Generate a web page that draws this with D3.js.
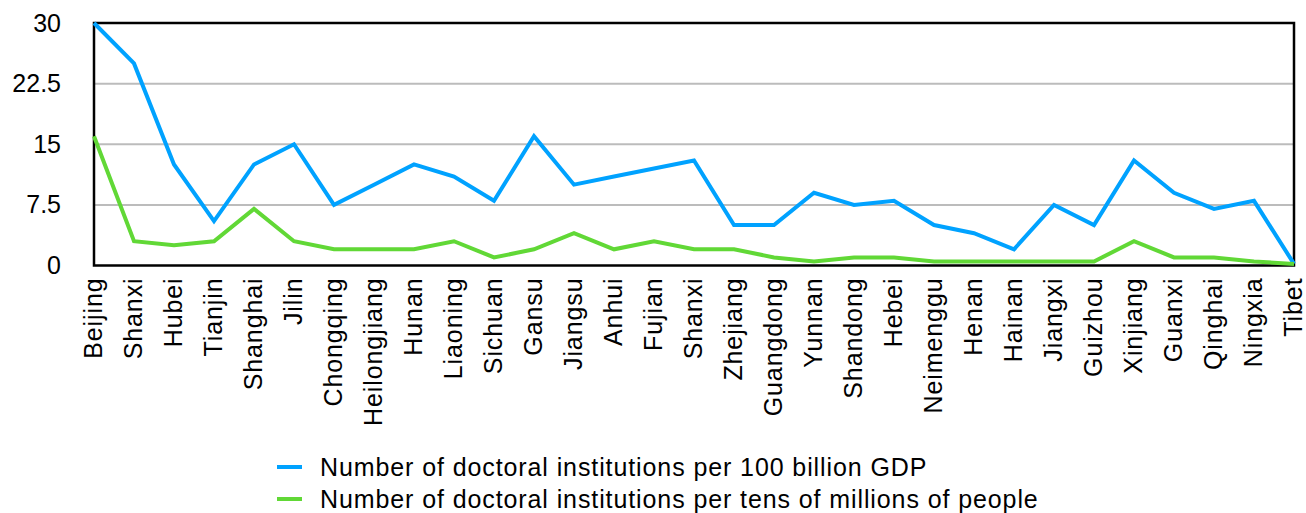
<!DOCTYPE html>
<html>
<head>
<meta charset="utf-8">
<script src="https://cdn.jsdelivr.net/npm/d3@7"></script>
<style>
  html, body { margin: 0; padding: 0; background: #fff; }
  svg { display: block; font-family: "Liberation Sans", Arial, sans-serif; }
</style>
</head>
<body>
<svg id="chart" width="1306" height="513"></svg>
<script>
// Provinces in display order (Shanxi appears twice in the source table)
const provinces = ["Beijing", "Shanxi", "Hubei", "Tianjin", "Shanghai", "Jilin", "Chongqing",
  "Heilongjiang", "Hunan", "Liaoning", "Sichuan", "Gansu", "Jiangsu", "Anhui", "Fujian",
  "Shanxi", "Zhejiang", "Guangdong", "Yunnan", "Shandong", "Hebei", "Neimenggu", "Henan",
  "Hainan", "Jiangxi", "Guizhou", "Xinjiang", "Guanxi", "Qinghai", "Ningxia", "Tibet"];

// Doctoral institutions per 100 billion GDP
const perGdp = [30, 25, 12.5, 5.5, 12.5, 15, 7.5, 10, 12.5, 11, 8, 16, 10, 11, 12, 13,
  5, 5, 9, 7.5, 8, 5, 4, 2, 7.5, 5, 13, 9, 7, 8, 0.2];

// Doctoral institutions per tens of millions of people
const perPop = [16, 3, 2.5, 3, 7, 3, 2, 2, 2, 3, 1, 2, 4, 2, 3, 2,
  2, 1, 0.5, 1, 1, 0.5, 0.5, 0.5, 0.5, 0.5, 3, 1, 1, 0.5, 0.2];

const yTicks = [0, 7.5, 15, 22.5, 30];

const seriesNames = ["Number of doctoral institutions per 100 billion GDP",
  "Number of doctoral institutions per tens of millions of people"];
const seriesColors = ["#00A2FF", "#61D836"];

const svg = d3.select("#chart");
const plot = { left: 94, right: 1294, top: 23, bottom: 265.5 };
const fontSize = 25;
const tracking = 0.9;

const x = d3.scalePoint().domain(d3.range(provinces.length)).range([plot.left, plot.right]);
const y = d3.scaleLinear().domain([0, 30]).range([plot.bottom, plot.top]);

// Horizontal gridlines
svg.append("g")
  .selectAll("line")
  .data(yTicks.filter(t => t > 0 && t < 30))
  .join("line")
  .attr("x1", plot.left).attr("x2", plot.right)
  .attr("y1", d => y(d)).attr("y2", d => y(d))
  .attr("stroke", "#bcbcbc").attr("stroke-width", 2);

// Y axis labels
const yAxis = svg.append("g")
  .attr("transform", `translate(${plot.left},0)`)
  .call(d3.axisLeft(y).tickValues(yTicks).tickSize(0).tickPadding(33)
    .tickFormat(d => d3.format("~g")(d)));
yAxis.select(".domain").remove();
yAxis.selectAll("text")
  .attr("font-size", fontSize).attr("fill", "#000")
  .attr("font-family", "'Liberation Sans', Arial, sans-serif");

// X axis labels, rotated
const xAxis = svg.append("g")
  .attr("transform", `translate(0,${plot.bottom})`)
  .call(d3.axisBottom(x).tickSize(0).tickPadding(0).tickFormat(i => provinces[i]));
xAxis.select(".domain").remove();
xAxis.selectAll("text")
  .attr("font-size", fontSize).attr("fill", "#000")
  .attr("font-family", "'Liberation Sans', Arial, sans-serif")
  .attr("letter-spacing", tracking)
  .attr("text-anchor", "end")
  .attr("dy", "0.33em")
  .attr("x", 0).attr("y", 0)
  .attr("transform", "translate(-1,12) rotate(-90)");

// Frame
svg.append("rect")
  .attr("x", plot.left).attr("y", plot.top)
  .attr("width", plot.right - plot.left).attr("height", plot.bottom - plot.top)
  .attr("fill", "none").attr("stroke", "#000").attr("stroke-width", 2.5);

// Lines
const line = d3.line()
  .x((d, i) => x(i))
  .y(d => y(d));

[perGdp, perPop].forEach((vals, k) => {
  svg.append("path")
    .datum(vals)
    .attr("fill", "none")
    .attr("stroke", seriesColors[k])
    .attr("stroke-width", 4)
    .attr("stroke-linejoin", "miter")
    .attr("d", line);
});

// Legend
const legend = svg.append("g");
seriesNames.forEach((name, k) => {
  const ly = 467 + k * 32;
  legend.append("line")
    .attr("x1", 277).attr("x2", 302)
    .attr("y1", ly).attr("y2", ly)
    .attr("stroke", seriesColors[k]).attr("stroke-width", 4);
  legend.append("text")
    .attr("x", 320).attr("y", ly)
    .attr("dy", "0.35em")
    .attr("font-size", fontSize)
    .attr("letter-spacing", tracking)
    .attr("fill", "#000")
    .text(name);
});
</script>
</body>
</html>
